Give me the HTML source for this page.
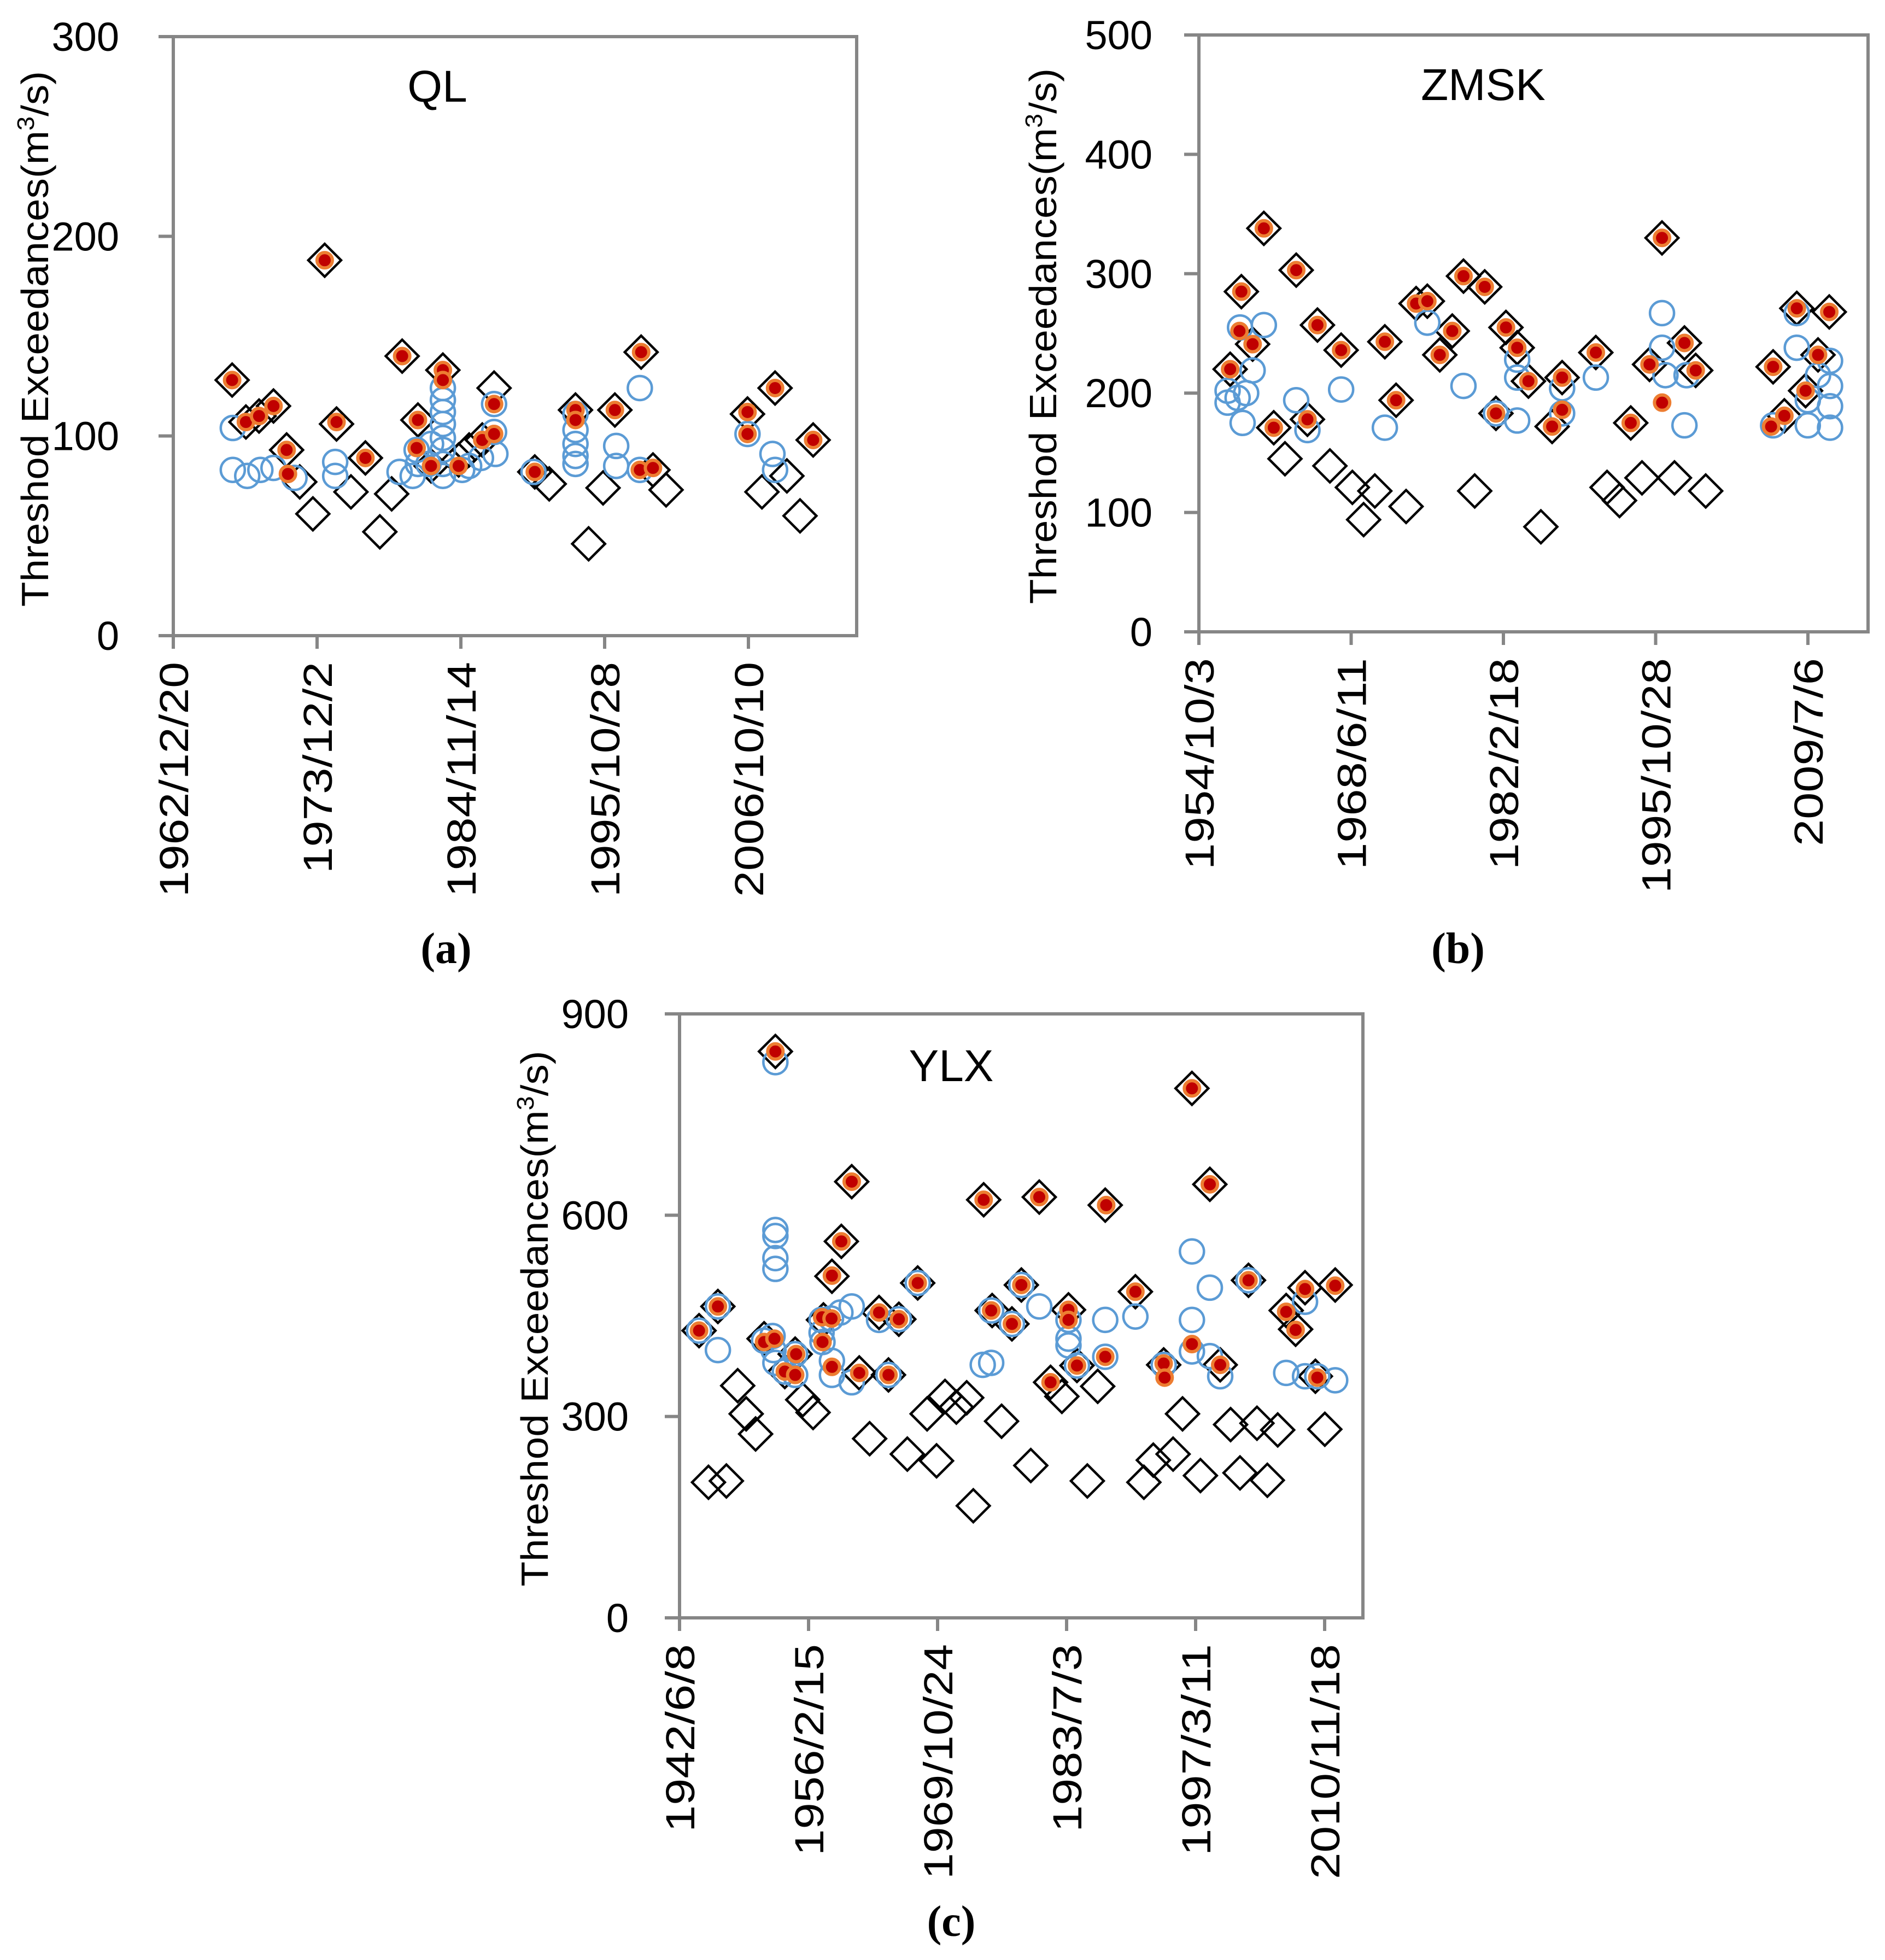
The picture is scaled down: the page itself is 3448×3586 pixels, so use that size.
<!DOCTYPE html>
<html><head><meta charset="utf-8">
<style>
html,body{margin:0;padding:0;background:#fff;}
svg{display:block;}
text{font-family:"Liberation Sans",sans-serif;fill:#000;}
</style></head>
<body>
<svg id="fig" xmlns="http://www.w3.org/2000/svg" width="3448" height="3586" viewBox="0 0 3448 3586"></svg>
<script>
// ---------- Plot (a) QL ----------
const qlDiamondYears=[1967.45,1968.5,1969.5,1970.6,1971.6,1972.6,1973.6,1974.5,1975.4,1976.5,1977.6,1978.7,1979.6,1980.4,1981.6,1982.6,1983.5,1984.7,1985.5,1986.5,1987.4,1990.5,1991.6,1993.6,1994.6,1995.7,1996.6,1998.6,1999.5,2000.5,2006.7,2007.8,2008.8,2009.7,2010.7,2011.7];
const qlDiamondValues=[128,107,110,115,93,77,61,188,106,72,89,52,71,140,108,85,133,88,93,98,124,82,76,113,46,74,113,142,83,73,111,72,124,80,60,98];
const qlCircleYears=[1967.5,1967.5,1968.6,1969.6,1970.6,1972.2,1975.3,1975.3,1980.2,1981.2,1981.5,1981.6,1982.4,1982.6,1983.5,1983.5,1983.5,1983.5,1983.5,1983.5,1983.5,1983.5,1984.97,1985.5,1986.4,1987.4,1987.4,1987.5,1990.4,1993.6,1993.6,1993.6,1993.6,1993.6,1996.7,1996.7,1998.5,1998.5,2006.7,2008.6,2008.8];
const qlCircleValues=[104,83,80,83,84,79,87,80,82,80,93,86,86,96,124,118,112,106,99,93,86,80,83,85,89,116,102,91,82,111,103,96,90,86,95,85,124,83,101,91,83];
const qlRedYears=[1967.45,1968.5,1969.5,1970.6,1971.6,1971.7,1974.5,1975.4,1977.6,1980.4,1981.5,1981.6,1982.6,1983.5,1983.5,1984.7,1986.5,1987.4,1987.4,1990.5,1993.6,1993.6,1996.6,1998.6,1998.5,1999.5,2006.7,2006.7,2008.8,2011.7];
const qlRedValues=[128,107,110,115,93,81,188,107,89,140,94,108,85,133,128,85,98,116,101,82,113,108,113,142,83,84,112,101,124,98];
const qlYTicks=[0,100,200,300];
const qlXTickYears=[1962.97,1973.92,1984.87,1995.82,2006.77];
const qlXTickLabels=["1962/12/20","1973/12/2","1984/11/14","1995/10/28","2006/10/10"];

// ---------- Plot (b) ZMSK ----------
const zmDiamondYears=[1957.56,1958.57,1959.58,1960.59,1961.48,1962.49,1963.5,1964.51,1965.41,1966.53,1967.54,1968.55,1969.56,1970.57,1971.47,1972.48,1973.38,1974.28,1975.29,1976.41,1977.53,1978.54,1979.55,1980.45,1981.46,1982.36,1983.37,1984.38,1985.5,1986.51,1987.41,1990.44,1991.45,1992.57,1993.58,1994.59,1995.27,1996.39,1997.51,1998.41,1999.42,2000.32,2006.38,2007.39,2008.51,2009.3,2010.42,2011.43];
const zmDiamondValues=[220,285,241,338,171,145,303,178,257,139,236,121,94,118,243,194,105,275,277,232,252,298,118,289,183,255,238,210,88,172,213,234,121,110,175,129,224,330,129,242,219,118,222,181,271,202,232,268];
const zmCircleYears=[1957.33,1957.33,1958.23,1958.45,1958.68,1959.0,1959.58,1960.59,1963.5,1964.51,1967.54,1971.47,1975.29,1978.54,1981.46,1983.37,1983.37,1983.37,1987.41,1987.41,1990.44,1996.39,1996.39,1996.7,1998.41,1998.6,2006.38,2008.51,2008.51,2009.5,2009.5,2010.42,2011.5,2011.5,2011.5,2011.5];
const zmCircleValues=[202,192,196,255,175,200,219,257,194,169,203,171,259,206,183,228,213,177,204,183,213,267,238,215,173,215,173,267,238,173,194,215,227,206,189,171];
const zmRedYears=[1957.56,1958.57,1958.4,1959.58,1960.59,1961.48,1963.5,1964.51,1965.41,1967.54,1971.47,1972.48,1974.28,1975.29,1976.41,1977.53,1978.54,1980.45,1981.46,1982.36,1983.37,1984.38,1986.51,1987.41,1987.41,1990.44,1993.58,1995.27,1996.39,1996.4,1998.41,1999.42,2006.38,2007.39,2008.51,2009.3,2010.42,2011.43,2006.2];
const zmRedValues=[220,285,252,241,338,171,303,178,257,236,243,194,275,277,232,252,298,289,183,255,238,210,172,213,186,234,175,224,330,192,242,219,222,181,271,202,232,268,172];
const zmYTicks=[0,100,200,300,400,500];
const zmXTickYears=[1954.75,1968.44,1982.13,1995.82,2009.51];
const zmXTickLabels=["1954/10/3","1968/6/11","1982/2/18","1995/10/28","2009/7/6"];

// ---------- Plot (c) YLX ----------
const ylDiamondYears=[1944.5,1946.5,1945.5,1947.4,1948.6,1949.5,1950.5,1951.4,1952.6,1953.6,1954.7,1955.5,1956.6,1957.7,1958.6,1959.6,1960.7,1961.5,1962.6,1963.6,1965.7,1964.6,1966.6,1967.7,1968.7,1969.7,1970.6,1971.8,1972.9,1973.6,1974.7,1975.6,1976.6,1977.7,1978.7,1979.7,1980.6,1981.8,1983.0,1983.7,1984.6,1985.7,1986.8,1987.6,1990.8,1991.7,1992.7,1993.8,1994.8,1995.8,1996.8,1997.7,1998.7,1999.8,2000.9,2001.9,2002.8,2003.7,2004.8,2005.9,2006.8,2007.8,2008.8,2009.9,2010.9,2012.0];
const ylDiamondValues=[428,464,202,204,346,304,274,416,844,367,393,325,306,444,509,561,650,365,267,455,445,362,244,499,304,234,330,314,328,167,623,458,293,438,496,227,627,351,330,459,376,204,345,615,486,202,235,377,244,304,789,212,646,377,288,216,503,290,205,280,458,430,492,360,281,496];
const ylCircleYears=[1944.5,1946.5,1946.5,1951.4,1952.3,1952.4,1952.6,1952.6,1952.6,1952.6,1952.6,1952.6,1953.6,1954.7,1954.7,1957.5,1957.5,1957.6,1958.5,1958.6,1958.6,1959.5,1960.7,1960.7,1963.6,1964.6,1965.7,1967.7,1974.6,1975.5,1975.5,1977.7,1978.7,1980.6,1983.7,1983.7,1983.7,1984.6,1987.6,1987.6,1990.8,1993.8,1996.8,1996.8,1996.8,1998.7,1998.7,1999.8,2002.8,2006.8,2008.8,2008.8,2012.0,2010.1];
const ylCircleValues=[428,464,399,413,420,399,828,578,569,536,520,380,367,393,362,444,425,411,446,383,362,455,464,351,444,362,445,499,377,380,458,438,496,464,416,406,444,376,444,389,449,377,546,444,397,492,390,360,503,365,471,360,354,360];
const ylRedYears=[1944.5,1946.5,1951.4,1952.5,1952.6,1953.6,1954.8,1954.7,1957.56,1957.6,1958.56,1958.6,1958.6,1959.6,1960.7,1961.5,1963.6,1964.6,1965.7,1967.7,1974.7,1975.5,1977.7,1978.7,1980.6,1981.8,1983.7,1983.7,1984.6,1987.7,1987.6,1990.8,1993.8,1993.9,1996.8,1996.8,1998.7,1999.8,2002.8,2006.8,2007.8,2008.8,2010.1,2012.0];
const ylRedValues=[428,464,411,416,844,367,393,362,448,411,446,374,510,561,650,365,455,362,445,499,623,458,438,496,627,351,459,444,376,615,389,486,379,358,789,408,646,377,503,456,429,490,358,495];
const ylYTicks=[0,300,600,900];
const ylXTickYears=[1942.43,1956.12,1969.81,1983.50,1997.19,2010.88];
const ylXTickLabels=["1942/6/8","1956/2/15","1969/10/24","1983/7/3","1997/3/11","2010/11/18"];

const NS="http://www.w3.org/2000/svg";
const svg=document.getElementById('fig');
function mk(tag,attrs,parent){const e=document.createElementNS(NS,tag);for(const k in attrs)e.setAttribute(k,attrs[k]);(parent||svg).appendChild(e);return e;}

function linX(left,y0,pxPerSpan,span){return y=>left+(y-y0)*pxPerSpan/span;}
function linY(bottom,top,max){return v=>bottom-v*(bottom-top)/max;}

const panels=[
 {key:'ql',title:'QL',left:317,right:1567,top:67,bottom:1163,yMax:300,x:linX(317,1962.97,263,10.95),
  yTicks:qlYTicks,xTickYears:qlXTickYears,xTickLabels:qlXTickLabels,
  dY:qlDiamondYears,dV:qlDiamondValues,cY:qlCircleYears,cV:qlCircleValues,rY:qlRedYears,rV:qlRedValues,
  labelRight:218,titleX:800,titleY:186,yTitleX:88,panelLabel:'(a)',plX:816,plY:1762},
 {key:'zmsk',title:'ZMSK',left:2193,right:3417,top:64,bottom:1156,yMax:500,x:linX(2193,1954.75,278.5,13.69),
  yTicks:zmYTicks,xTickYears:zmXTickYears,xTickLabels:zmXTickLabels,
  dY:zmDiamondYears,dV:zmDiamondValues,cY:zmCircleYears,cV:zmCircleValues,rY:zmRedYears,rV:zmRedValues,
  labelRight:2108,titleX:2713,titleY:183,yTitleX:1932,panelLabel:'(b)',plX:2667,plY:1762},
 {key:'ylx',title:'YLX',left:1243,right:2493,top:1855,bottom:2960,yMax:900,x:linX(1243,1942.43,236,13.69),
  yTicks:ylYTicks,xTickYears:ylXTickYears,xTickLabels:ylXTickLabels,
  dY:ylDiamondYears,dV:ylDiamondValues,cY:ylCircleYears,cV:ylCircleValues,rY:ylRedYears,rV:ylRedValues,
  labelRight:1150,titleX:1740,titleY:1978,yTitleX:1002,panelLabel:'(c)',plX:1740,plY:3542}
];

panels.forEach(p=>{
  const y=linY(p.bottom,p.top,p.yMax);
  const g=mk('g',{});
  
  
  const frame=mk('rect',{x:p.left,y:p.top,width:p.right-p.left,height:p.bottom-p.top,fill:'none',stroke:'#868686','stroke-width':6},g);
  
  
  p.yTicks.forEach(t=>{
    const ty=y(t);
    const tk=mk('line',{x1:p.left-27,x2:p.left,y1:ty,y2:ty,stroke:'#868686','stroke-width':6},g);
    
    
    const tl=mk('text',{x:p.labelRight,y:ty+26,'text-anchor':'end','font-size':74},g);
    tl.textContent=t;
    
    
  });
  p.xTickYears.forEach((yr,i)=>{
    const tx=p.x(yr);
    const tk=mk('line',{x1:tx,x2:tx,y1:p.bottom,y2:p.bottom+24,stroke:'#868686','stroke-width':6},g);
    
    
    const lab=p.xTickLabels[i];
    const tl=mk('text',{x:0,y:0,'text-anchor':'end','font-size':74,textLength:43*lab.length,lengthAdjust:'spacingAndGlyphs',transform:`translate(${tx+27},${p.bottom+48}) rotate(-90)`},g);
    tl.textContent=lab;
    
    
  });
  const cy=(p.top+p.bottom)/2+5;
  const yt=mk('text',{x:0,y:0,'text-anchor':'middle','font-size':70,textLength:980,lengthAdjust:'spacingAndGlyphs',transform:`translate(${p.yTitleX},${cy}) rotate(-90)`},g);
  yt.innerHTML='Threshod Exceedances(m<tspan dy="-26" font-size="44">3</tspan><tspan dy="26">/s)</tspan>';
  
  
  const tt=mk('text',{x:p.titleX,y:p.titleY,'text-anchor':'middle','font-size':82},g);
  tt.textContent=p.title;
  
  
  const pl=mk('text',{x:p.plX,y:p.plY,'text-anchor':'middle','font-size':80,style:'font-family:"Liberation Serif",serif;font-weight:bold'},g);
  pl.textContent=p.panelLabel;
  
  
  p.dY.forEach((yr,i)=>{
    const cx=p.x(yr),cyy=y(p.dV[i]),s=30;
    const d=mk('polygon',{points:`${cx},${cyy-s} ${cx+s},${cyy} ${cx},${cyy+s} ${cx-s},${cyy}`,fill:'none',stroke:'#000','stroke-width':4.5},g);
    
    
  });
  p.cY.forEach((yr,i)=>{
    const c=mk('circle',{cx:p.x(yr),cy:y(p.cV[i]),r:22,fill:'none',stroke:'#5b9bd5','stroke-width':4.5},g);
    
    
  });
  p.rY.forEach((yr,i)=>{
    const c=mk('circle',{cx:p.x(yr),cy:y(p.rV[i]),r:14,fill:'#c00000',stroke:'#ed7d31','stroke-width':6},g);
    
    
  });
});
</script>
</body></html>
